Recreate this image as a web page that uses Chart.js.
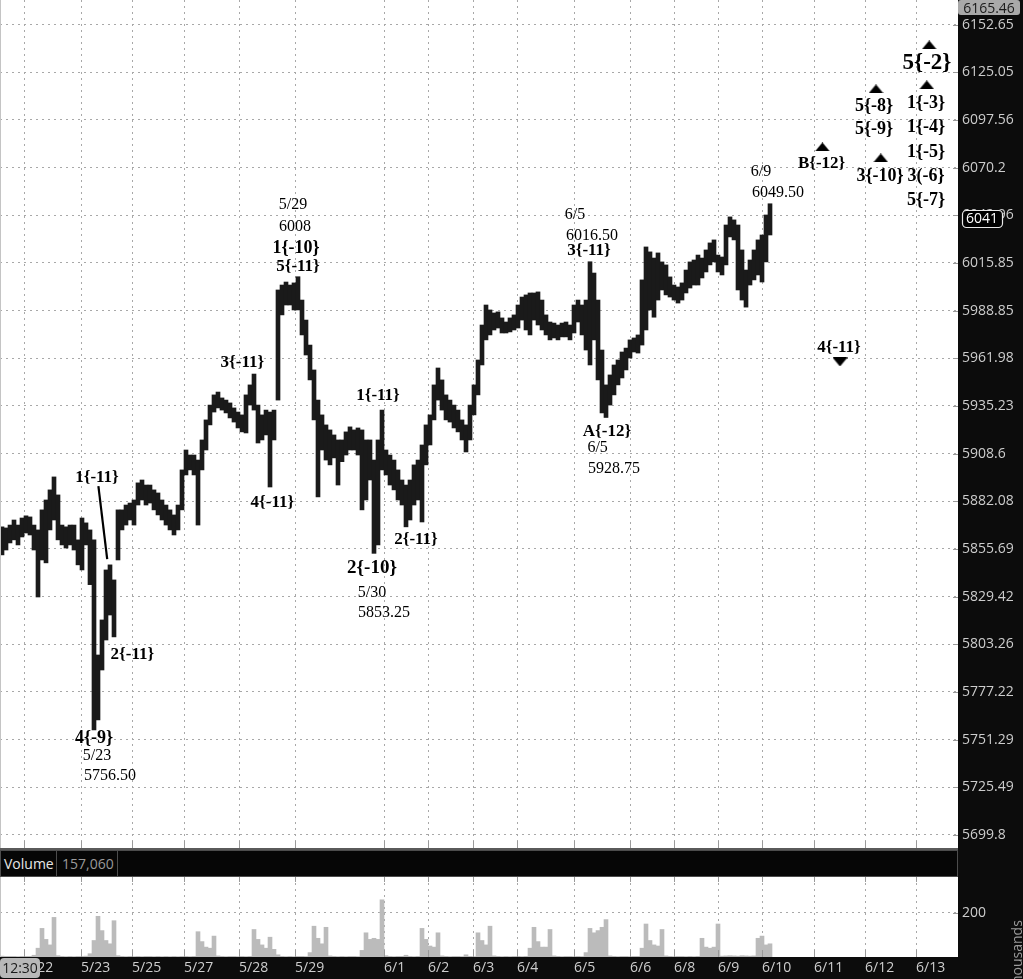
<!DOCTYPE html>
<html><head><meta charset="utf-8">
<script src="https://cdn.jsdelivr.net/npm/chart.js@4.4.1/dist/chart.umd.min.js"></script>
<style>
html,body{margin:0;padding:0;background:#0c0c0c;width:1023px;height:979px;overflow:hidden;font-family:"Open Sans",sans-serif;}
#pc{position:absolute;left:0;top:0;}
#sep{position:absolute;left:0;top:848px;width:958px;height:2px;background:#5a5a5a;}
#volHeader{position:absolute;left:0;top:850px;width:956px;height:25px;background:#060606;border:1px solid #4c4c4c;color:#e6e6e6;font-size:14px;line-height:25px;}
#volHeader .a{position:absolute;left:3px;top:0;}
#volHeader .b{position:absolute;left:55px;top:0;width:62px;height:25px;border-left:1px solid #4c4c4c;border-right:1px solid #4c4c4c;color:#9a9a9a;padding-left:5px;box-sizing:border-box;}
#vc{position:absolute;left:0;top:877px;}
#timeBox{position:absolute;left:0;top:958px;width:40px;height:20px;background:#b8b8b8;border-radius:4px;color:#1a1a1a;font-size:14px;line-height:20px;text-align:center;}
#topBox{position:absolute;left:958px;top:0;width:62px;height:15px;background:#a9a9a9;border-radius:3px;color:#1a1a1a;font-size:14px;line-height:15px;text-align:center;}
</style></head>
<body>
<canvas id="pc" width="1023" height="848"></canvas>
<div id="sep"></div>
<div id="volHeader"><span class="a">Volume</span><span class="b">157,060</span></div>
<canvas id="vc" width="1023" height="102"></canvas>
<div id="timeBox">12:30</div>
<div id="topBox">6165.46</div>
<script>
// ---------- data ----------
const highs = [5867.9,5867.3,5868.9,5871.7,5868.9,5872.8,5874.0,5873.4,5868.9,5866.2,
5877.3,5882.8,5888.4,5895.6,5885.6,5868.9,5867.9,5868.9,5868.9,5860.7,
5872.8,5870.1,5866.2,5860.7,5797.4,5816.6,5844.1,5846.9,5838.6,5877.3,
5877.3,5880.0,5881.1,5882.8,5892.3,5893.9,5891.1,5891.1,5888.4,5886.7,
5882.8,5880.0,5877.3,5874.5,5880.0,5899.5,5910.6,5907.8,5907.8,5905.0,
5916.2,5927.4,5935.7,5941.4,5943.0,5939.7,5938.5,5936.9,5934.1,5931.8,
5930.2,5941.4,5947.0,5953.1,5935.7,5930.2,5932.9,5931.8,5932.9,6000.5,
6003.3,6005.0,6003.3,6004.5,6008.0,5994.8,5983.5,5969.4,5955.4,5938.5,
5930.2,5924.6,5921.8,5919.0,5916.2,5916.2,5920.7,5923.5,5921.8,5922.9,
5921.8,5916.2,5916.2,5905.0,5916.2,5932.9,5910.6,5907.8,5905.0,5899.5,
5893.9,5891.1,5893.9,5902.3,5905.0,5913.4,5924.6,5930.2,5947.0,5956.5,
5949.8,5941.4,5938.5,5935.7,5932.9,5927.4,5924.6,5935.7,5947.0,5961.0,
5980.7,5992.0,5989.2,5987.5,5988.1,5984.7,5982.4,5984.7,5986.4,5992.0,
5996.5,5997.7,5998.8,5998.8,5999.4,5994.8,5986.4,5982.4,5981.8,5980.7,
5981.8,5982.4,5980.7,5992.0,5994.8,5992.0,5994.8,6016.5,6010.1,5994.8,
5966.6,5947.0,5952.6,5958.2,5961.0,5965.5,5967.7,5972.3,5973.4,5975.1,
6006.2,6024.9,6022.1,6018.6,6021.5,6016.4,6014.7,6007.9,6003.3,6002.2,
6004.5,6011.8,6016.4,6017.5,6020.3,6018.6,6023.2,6027.2,6028.9,6020.3,
6019.2,6037.4,6042.0,6040.3,6037.4,6023.2,6011.8,6017.5,6023.2,6028.9,
6031.7,6043.1,6049.5];
const lows = [5852.4,5855.1,5859.0,5860.7,5857.9,5862.3,5864.5,5863.4,5855.1,5829.2,
5849.6,5848.0,5866.2,5871.7,5860.7,5857.9,5856.2,5857.9,5855.1,5846.9,
5844.1,5857.9,5836.0,5756.5,5762.0,5789.2,5805.6,5819.3,5807.3,5849.6,
5866.2,5868.9,5871.7,5868.9,5880.0,5882.8,5880.0,5881.1,5877.3,5874.5,
5871.7,5868.9,5866.2,5863.4,5866.2,5877.3,5896.7,5899.5,5896.7,5868.9,
5899.5,5910.6,5924.6,5931.8,5934.1,5932.9,5931.3,5928.5,5926.2,5922.9,
5920.7,5920.1,5935.7,5932.9,5914.5,5916.2,5919.0,5890.0,5916.2,5938.5,
5986.4,5992.0,5992.0,5989.2,5989.2,5975.1,5963.8,5949.8,5927.4,5884.5,
5910.6,5905.0,5902.3,5906.2,5891.1,5904.1,5907.8,5910.6,5910.6,5907.8,
5877.3,5882.8,5893.9,5853.25,5857.9,5899.5,5896.7,5891.1,5888.4,5882.8,
5880.0,5867.9,5871.7,5880.0,5882.8,5870.6,5902.3,5913.4,5927.4,5938.5,
5932.9,5927.4,5926.2,5922.9,5920.7,5916.2,5909.5,5916.2,5930.2,5941.4,
5958.2,5972.3,5975.1,5977.9,5979.0,5976.2,5976.2,5976.8,5977.9,5979.0,
5983.5,5977.9,5975.1,5983.5,5980.7,5977.9,5975.1,5972.3,5973.4,5972.3,
5974.0,5974.0,5972.3,5976.2,5982.4,5975.1,5966.6,5958.2,5972.3,5949.8,
5931.3,5928.75,5935.7,5941.4,5947.0,5950.9,5955.4,5962.1,5965.5,5964.9,
5969.4,5977.9,5989.2,5985.1,5994.8,6000.5,5997.7,5996.5,5994.8,5993.1,
5994.8,5998.8,6001.6,6003.3,6003.3,6007.3,6010.7,6014.7,6016.4,6010.7,
6009.0,6014.7,6030.6,6028.9,6000.5,5994.8,5990.8,6003.3,6006.2,6009.0,
6005.0,6016.4,6031.7];
const volumes = [4,3,3,3,2,3,3,3,8,40,
130,80,55,180,6,3,2,3,2,3,
3,4,15,75,185,120,75,60,165,6,
3,2,3,2,3,2,3,3,2,3,
2,3,2,3,2,3,3,2,3,115,
70,45,40,95,5,3,2,3,3,2,
3,2,3,125,80,55,40,90,35,10,
3,2,3,2,3,3,2,20,140,85,
60,135,5,3,2,3,2,3,3,2,
30,110,80,85,80,260,6,3,2,3,
3,8,3,2,3,130,80,50,45,110,
5,3,2,3,3,2,10,3,2,110,
75,55,140,5,3,2,3,2,3,3,
2,3,40,135,70,45,45,125,5,3,
2,3,3,2,3,2,20,130,110,120,
135,170,5,3,2,3,3,2,3,3,
40,150,75,55,50,125,5,3,2,3,
3,2,3,2,3,85,45,40,45,150,
4,5,6,5,4,6,5,4,5,85,
95,55,60];

const dateTickPos = [5.5,19.75,32.5,45.5,59.25,73.25,95.5,106.5,117.75,128.75,143,157,168,179,190,203,215.75,228.5];
const dateTickLabels = ['5/22','5/23','5/25','5/27','5/28','5/29','6/1','6/2','6/3','6/4','6/5','6/6','6/8','6/9','6/10','6/11','6/12','6/13'];
const priceTickLabels = ['6152.65','6125.05','6097.56','6070.2','6042.96','6015.85','5988.85','5961.98','5935.23','5908.6','5882.08','5855.69','5829.42','5803.26','5777.22','5751.29','5725.49','5699.8'];
const volTickLabels = ['200'];

const triUpX = [205.1,218.5,219.7,231.8,231.2];
const triUpY = [6082.0,6115.4,6075.7,6140.8,6117.7];
const triDownX = [209.5];
const triDownY = [5959.9];

const guideLineX = [24.1,26.3];
const guideLineY = [5890.5,5850.0];

const noteX = [23.75,32.6,23.0,23.75,27.0,60.1,67.6,72.75,73.25,73.5,74.0,94.0,103.5,92.5,92.5,95.5,143.25,147.5,146.75,151.25,148.9,153.0,189.75,194.0,204.9,218.0,218.0,219.5,231.25,231.0,231.0,231.0,231.0,231.0,209.25];
const noteY = [5895.0,5797.4,5752.2,5742.5,5731.6,5959.3,5881.1,6048.8,6036.3,6024.3,6013.5,5940.8,5860.7,5845.2,5831.4,5820.4,6043.1,6031.2,6022.6,5920.7,5911.7,5900.0,6067.6,6055.7,6072.2,6105.6,6092.3,6065.4,6130.4,6107.3,6093.5,6079.1,6065.4,6051.7,5967.7];
const noteText = ['1{-11}','2{-11}','4{-9}','5/23','5756.50','3{-11}','4{-11}','5/29','6008','1{-10}','5{-11}','1{-11}','2{-11}','2{-10}','5/30','5853.25','6/5','6016.50','3{-11}','A{-12}','6/5','5928.75','6/9','6049.50','B{-12}','5{-8}','5{-9}','3{-10}','5{-2}','1{-3}','1{-4}','1{-5}','3(-6}','5{-7}','4{-11}'];
const noteSize = [17,17,18,16,16,17,17,16,16,18,17,17,17,19,16,16,16,16,17,17,16,16,16,16,17,18,18,18,23,18,18,18,18,18,17];
const noteBold = [1,1,1,0,0,1,1,0,0,1,1,1,1,1,0,0,0,0,1,1,0,0,0,0,1,1,1,1,1,1,1,1,1,1,1];
const lastPrice = 6041;

// ---------- helpers ----------
Chart.defaults.font.family = '"Open Sans", sans-serif';
function makeTri(down){
  const c=document.createElement('canvas'); c.width=15; c.height=9;
  const g=c.getContext('2d'); g.fillStyle='#000'; g.beginPath();
  if(!down){g.moveTo(7.5,0);g.lineTo(15,9);g.lineTo(0,9);} else {g.moveTo(0,0);g.lineTo(15,0);g.lineTo(7.5,9);}
  g.closePath(); g.fill(); return c;
}
const GRID='#a8a8a8', DASH=[2,4], LABEL='#cdcdcd';
function noPad(s){ s.paddingTop=0; s.paddingBottom=0; s.paddingLeft=0; s.paddingRight=0; }

const whiteArea = {
  id:'whiteArea',
  beforeDraw(chart){
    const {ctx, chartArea:a}=chart; ctx.save(); ctx.fillStyle='#ffffff';
    ctx.fillRect(a.left,a.top,a.right-a.left,a.bottom-a.top); ctx.restore();
  },
  afterDraw(chart){
    const {ctx, chartArea:a}=chart; ctx.save();
    ctx.strokeStyle='#9a9a9a'; ctx.lineWidth=1;
    const xs=chart.scales.x;
    dateTickPos.forEach(v=>{const p=Math.round(xs.getPixelForValue(v))+0.5;
      ctx.beginPath(); ctx.moveTo(p,a.bottom-7); ctx.lineTo(p,a.bottom); ctx.stroke();
      if(chart.canvas.id==='vc'){ctx.beginPath(); ctx.moveTo(p,a.top); ctx.lineTo(p,a.top+5); ctx.stroke();}
    });
    const ys=chart.scales.y;
    ys.ticks.forEach(t=>{const p=Math.round(ys.getPixelForValue(t.value))+0.5;
      ctx.beginPath(); ctx.moveTo(a.right-5,p); ctx.lineTo(a.right,p); ctx.stroke();});
    ctx.strokeStyle='#c4c4c4';
    ctx.beginPath(); ctx.moveTo(a.left+0.5,a.top); ctx.lineTo(a.left+0.5,a.bottom); ctx.stroke();
    ctx.restore();
  }
};

const notes = {
  id:'notes',
  afterDatasetsDraw(chart){
    const {ctx}=chart, xs=chart.scales.x, ys=chart.scales.y;
    ctx.save(); ctx.fillStyle='#000'; ctx.textAlign='center'; ctx.textBaseline='middle';
    noteText.forEach((t,i)=>{
      ctx.font=(noteBold[i]?'bold ':'')+noteSize[i]+'px "Liberation Serif", serif';
      ctx.fillText(t, xs.getPixelForValue(noteX[i]), ys.getPixelForValue(noteY[i]));
    });
    ctx.restore();
  },
  afterDraw(chart){
    const {ctx}=chart, ys=chart.scales.y;
    const py=ys.getPixelForValue(lastPrice);
    ctx.save();
    const x0=962, w=40, h=17, y0=Math.round(py-h/2);
    ctx.fillStyle='#000'; ctx.strokeStyle='#e8e8e8'; ctx.lineWidth=1.2;
    ctx.beginPath(); ctx.roundRect(x0+0.5,y0+0.5,w,h,4); ctx.fill(); ctx.stroke();
    ctx.fillStyle='#ffffff'; ctx.font='14px "Open Sans", sans-serif'; ctx.textAlign='left'; ctx.textBaseline='middle';
    ctx.fillText(String(lastPrice), x0+4, y0+h/2+1);
    ctx.restore();
  }
};

// ---------- price chart ----------
new Chart(document.getElementById('pc'), {
  type:'bar',
  data:{datasets:[
    {type:'bar', data: highs.map((h,i)=>({x:i, y:[lows[i], h]})), backgroundColor:'#1a1a1a', borderWidth:0,
     barPercentage:1, categoryPercentage:1, order:3},
    {type:'line', data: guideLineX.map((x,i)=>({x, y:guideLineY[i]})), borderColor:'#000', borderWidth:2.2,
     pointRadius:0, fill:false, order:1},
    {type:'scatter', data: triUpX.map((x,i)=>({x, y:triUpY[i]})), pointStyle:makeTri(false), pointRadius:8, order:0},
    {type:'scatter', data: triDownX.map((x,i)=>({x, y:triDownY[i]})), pointStyle:makeTri(true), pointRadius:8, order:0}
  ]},
  options:{
    responsive:false, animation:false, events:[],
    layout:{padding:0, autoPadding:false},
    plugins:{legend:{display:false}, tooltip:{enabled:false}},
    scales:{
      x:{type:'linear', min:-0.5, max:239, offset:false,
         afterBuildTicks:s=>{s.ticks=dateTickPos.map(v=>({value:v}));},
         ticks:{display:false}, grid:{color:GRID, drawTicks:false, offset:false},
         border:{display:false, dash:DASH},
         afterFit:s=>{s.height=0; noPad(s);}},
      y:{type:'logarithmic', position:'right', min:5692.8, max:6166.9,
         afterBuildTicks:s=>{s.ticks=priceTickLabels.map(v=>({value:parseFloat(v)}));},
         ticks:{autoSkip:false, padding:4, color:LABEL, font:{size:14}, callback:(v,i)=>priceTickLabels[i]},
         grid:{color:GRID, drawTicks:false}, border:{display:false, dash:DASH},
         afterFit:s=>{s.width=65; noPad(s);}}
    }
  },
  plugins:[whiteArea, notes]
});

// ---------- volume chart ----------
const volLabels = {
  id:'volLabels',
  afterDraw(chart){
    const {ctx}=chart; ctx.save();
    ctx.translate(1018, 112); ctx.rotate(-Math.PI/2);
    ctx.fillStyle='#9a9a9a'; ctx.font='14px "Open Sans", sans-serif'; ctx.textAlign='left'; ctx.textBaseline='middle';
    ctx.fillText('thousands', 0, 0);
    ctx.restore();
  }
};
new Chart(document.getElementById('vc'), {
  type:'bar',
  data:{datasets:[
    {data: volumes.map((v,i)=>({x:i, y:v})), backgroundColor:'#bbbbbb', borderWidth:0, barPercentage:1, categoryPercentage:1}
  ]},
  options:{
    responsive:false, animation:false, events:[],
    layout:{padding:0, autoPadding:false},
    plugins:{legend:{display:false}, tooltip:{enabled:false}},
    scales:{
      x:{type:'linear', min:-0.5, max:239, offset:false,
         afterBuildTicks:s=>{s.ticks=dateTickPos.map(v=>({value:v}));},
         ticks:{autoSkip:false, maxRotation:0, align:'start', padding:3, color:LABEL, font:{size:14},
                callback:(v,i)=>dateTickLabels[i]},
         grid:{color:GRID, drawTicks:false, offset:false}, border:{display:false, dash:DASH},
         afterFit:s=>{s.height=22; noPad(s);}},
      y:{type:'linear', position:'right', min:0, max:363.6,
         afterBuildTicks:s=>{s.ticks=volTickLabels.map(v=>({value:parseFloat(v)}));},
         ticks:{autoSkip:false, padding:4, color:LABEL, font:{size:14}, callback:(v,i)=>volTickLabels[i]},
         grid:{color:GRID, drawTicks:false}, border:{display:false, dash:DASH},
         afterFit:s=>{s.width=65; noPad(s);}}
    }
  },
  plugins:[whiteArea, volLabels]
});
</script>
</body></html>
